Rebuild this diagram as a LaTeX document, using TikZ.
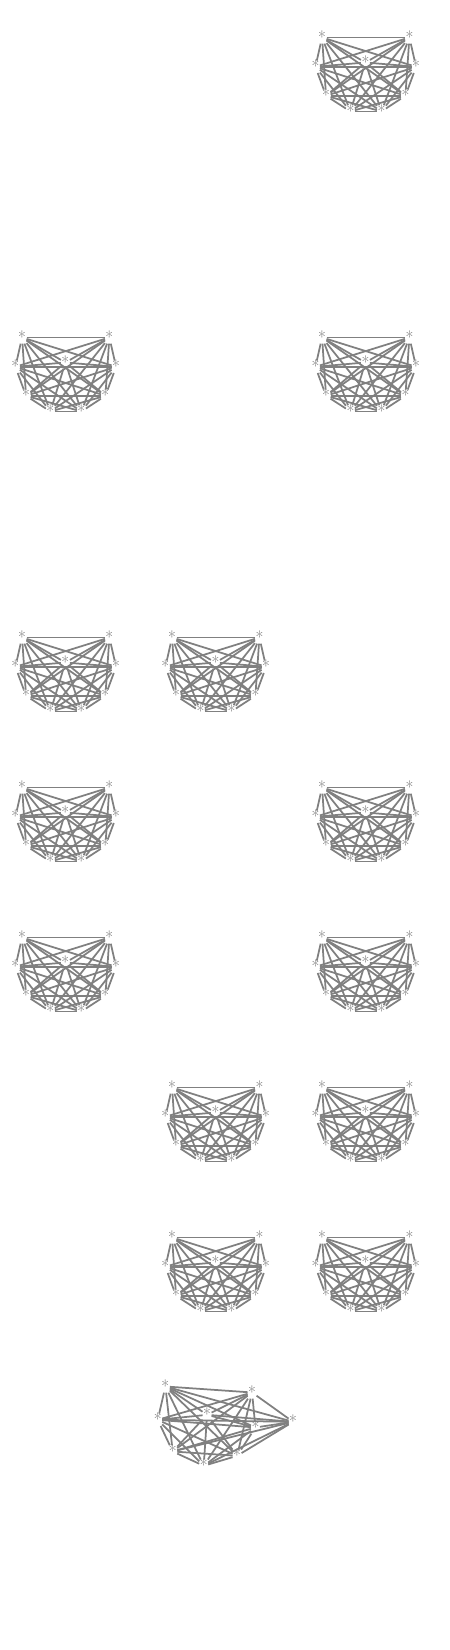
\documentclass[tikz,border=0pt]{standalone}
\definecolor{graytone}{HTML}{808080}
\definecolor{startone}{HTML}{6E6E6E}
\tikzset{
  vtx/.style={shape=rectangle,inner sep=0pt,minimum width=8.6pt,text height=12pt,text depth=0pt,text=startone,font=\fontsize{17}{17}\selectfont},
  lnk/.style={draw=graytone,line width=1.75pt}
}
% #1 prefix, #2 x, #3 y, #4 macro holding the node positions (zoomed crop units)
\newcommand{\knine}[4]{%
  \begin{scope}[shift={(#2pt+0.4pt,#3pt-0.8pt)}]
    \foreach \n/\px/\py in #4 {
      \node[vtx] (#1\n) at (\px/3,-\py/3) {*};
    }
    \foreach \a/\b in {a/b,a/c,a/d,a/e,a/f,a/g,a/h,a/i,b/c,b/d,b/e,b/f,b/g,b/h,b/i,c/d,c/e,c/f,c/g,c/h,c/i,d/e,d/f,d/g,d/h,d/i,e/f,e/g,e/h,e/i,f/g,f/h,f/i,g/h,g/i,h/i}{
      \draw[lnk] (#1\a) -- (#1\b);
    }
  \end{scope}%
}
\newcommand{\std}{a/50/50,b/312/50,c/30/138,d/332/138,e/180/125,f/62/225,g/300/225,h/135/272,i/228/272}
\newcommand{\odd}{a/60/47,b/320/65,c/37/147,d/330/170,e/185/132,f/82/242,g/275/255,h/175/285,i/443/153}
\begin{document}
\begin{tikzpicture}[x=1pt,y=1pt]
\useasboundingbox (0,0) rectangle (450,-1650);
\knine{p}{305}{-20}{\std}
\knine{q}{5}{-320}{\std}
\knine{r}{305}{-320}{\std}
\knine{s}{5}{-620}{\std}
\knine{t}{155}{-620}{\std}
\knine{u}{5}{-770}{\std}
\knine{v}{305}{-770}{\std}
\knine{w}{5}{-920}{\std}
\knine{x}{305}{-920}{\std}
\knine{y}{155}{-1070}{\std}
\knine{z}{305}{-1070}{\std}
\knine{m}{155}{-1220}{\std}
\knine{n}{305}{-1220}{\std}
\knine{o}{145}{-1370}{\odd}
\end{tikzpicture}
\end{document}
